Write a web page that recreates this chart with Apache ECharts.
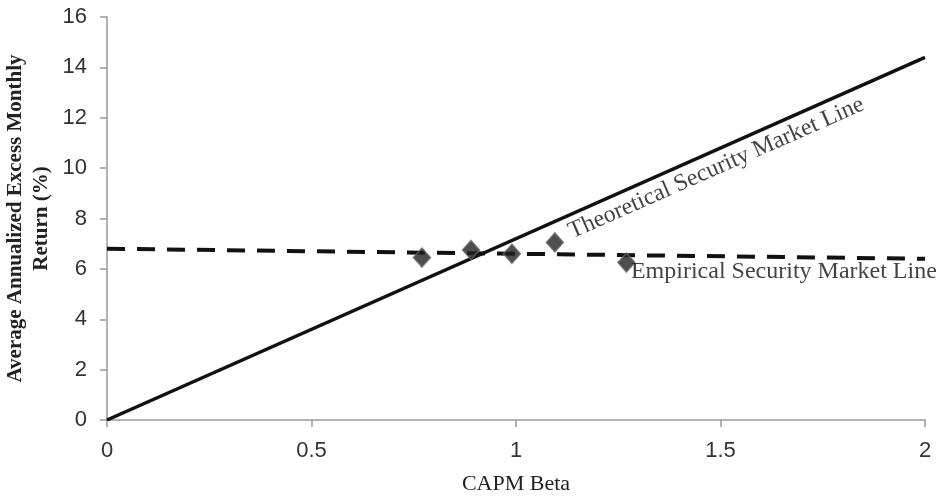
<!DOCTYPE html>
<html>
<head>
<meta charset="utf-8">
<script src="https://cdn.jsdelivr.net/npm/echarts@6/dist/echarts.min.js"></script>
<style>
  html, body { margin: 0; padding: 0; background: #fff; }
  #chart { width: 938px; height: 498px; }
</style>
</head>
<body>
<div id="chart"></div>
<script>
// CAPM beta vs average annualized excess return (%)
const theoreticalLine = [[0, 0], [2, 14.4]]
const empiricalLine = [[0, 6.8], [2, 6.4]]
const portfolios = [[0.77, 6.45], [0.89, 6.75], [0.99, 6.6], [1.095, 7.05], [1.27, 6.25]]

// where the line captions sit (data coords)
const theoreticalLabelAt = [1.49, 10.0]
const empiricalLabelAt = [1.655, 5.87]
const theoreticalLabel = 'Theoretical Security Market Line'
const empiricalLabel = 'Empirical Security Market Line'
const xName = 'CAPM Beta'
const yName = 'Average Annualized Excess Monthly\nReturn (%)'

const SERIF = '"Liberation Serif", "DejaVu Serif", serif'
const SANS = '"Liberation Sans", Arial, sans-serif'

const chart = echarts.init(document.getElementById('chart'), null, { renderer: 'canvas' })

function captionSeries(name, point, text, rotate) {
  return {
    name: name,
    type: 'scatter',
    data: [point],
    symbol: 'circle',
    symbolSize: 1,
    silent: true,
    itemStyle: { color: 'rgba(0,0,0,0)' },
    label: {
      show: true,
      position: 'inside',
      formatter: text,
      rotate: rotate,
      fontFamily: SERIF,
      fontSize: 24,
      color: '#111',
      align: 'center',
      verticalAlign: 'middle'
    },
    z: 5
  }
}

chart.setOption({
  backgroundColor: '#fff',
  animation: false,
  grid: { left: 107, right: 13, top: 17, bottom: 78, outerBoundsMode: 'none', containLabel: false },
  xAxis: {
    type: 'value',
    min: 0,
    max: 2,
    interval: 0.5,
    name: xName,
    nameLocation: 'middle',
    nameGap: 53,
    nameMoveOverlap: false,
    nameTextStyle: { fontFamily: SERIF, fontSize: 22, color: '#222' },
    axisLine: { show: true, lineStyle: { color: '#9a9a9a', width: 1.5 } },
    axisTick: { show: true, length: 7, lineStyle: { color: '#9a9a9a', width: 1.5 } },
    axisLabel: { fontFamily: SANS, fontSize: 22, color: '#333', margin: 20 },
    splitLine: { show: false }
  },
  yAxis: {
    type: 'value',
    min: 0,
    max: 16,
    interval: 2,
    name: yName,
    nameLocation: 'middle',
    nameGap: 52,
    nameMoveOverlap: false,
    nameRotate: 90,
    nameTextStyle: { fontFamily: SERIF, fontSize: 21, fontWeight: 'bold', color: '#222', lineHeight: 26, align: 'center' },
    axisLine: { show: true, lineStyle: { color: '#9a9a9a', width: 1.5 } },
    axisTick: { show: true, length: 7, lineStyle: { color: '#9a9a9a', width: 1.5 } },
    axisLabel: { fontFamily: SANS, fontSize: 22, color: '#333', margin: 20 },
    splitLine: { show: false }
  },
  series: [
    {
      name: 'Theoretical',
      type: 'line',
      data: theoreticalLine,
      showSymbol: false,
      lineStyle: { color: '#111', width: 3.5 },
      z: 3
    },
    {
      name: 'Empirical',
      type: 'line',
      data: empiricalLine,
      showSymbol: false,
      lineStyle: { color: '#111', width: 4, type: [18, 12] },
      z: 2
    },
    {
      name: 'Portfolios',
      type: 'scatter',
      data: portfolios,
      symbol: 'diamond',
      symbolSize: [17, 19],
      itemStyle: { color: '#222', borderColor: '#666', borderWidth: 1.5 },
      z: 4
    },
    captionSeries('theoreticalCaption', theoreticalLabelAt, theoreticalLabel, 23.8),
    captionSeries('empiricalCaption', empiricalLabelAt, empiricalLabel, 0)
  ]
})
</script>
</body>
</html>
